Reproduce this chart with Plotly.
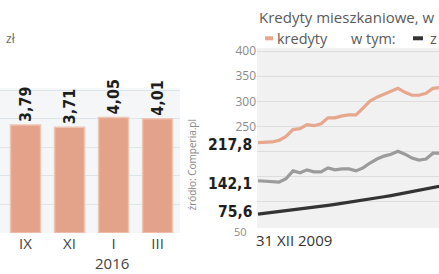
import plotly.graph_objects as go

# ---- left chart data ----
bar_labels = ["IX", "XI", "I", "III"]
bar_values = [3.79, 3.71, 4.05, 4.01]
bar_text = ["3,79", "3,71", "4,05", "4,01"]

# ---- right chart data (monthly, from 31 XII 2009, bn zł) ----
kredyty = [217.8, 218.5, 219.2, 222.3, 230.1, 243.8, 245.7, 253.5, 251.6, 255.5,
           267.2, 267.2, 271.1, 273.0, 273.0, 286.7, 300.4, 308.2, 314.1, 319.9,
           325.8, 318.0, 312.1, 312.1, 316.0, 325.8, 327.7, 329.7]
walutowe = [142.1, 141.2, 140.2, 139.3, 146.1, 161.7, 157.8, 163.7, 159.8, 159.8,
            167.6, 163.7, 165.6, 165.6, 161.7, 167.6, 177.3, 185.2, 191.0, 194.9,
            200.8, 194.9, 187.1, 183.2, 185.2, 196.9, 196.9, 194.9]
zlotowe = [75.6, 77.2, 78.8, 80.5, 82.2, 84.0, 85.8, 87.6, 89.4, 91.2,
           93.1, 95.0, 97.0, 99.0, 101.1, 103.3, 105.5, 107.8, 110.2, 112.6,
           115.1, 117.6, 120.2, 122.8, 125.5, 128.2, 131.0, 133.8]
months = list(range(len(kredyty)))
right_ticks = [250, 300, 350, 400]
right_bottom_tick = 50

W, H = 439, 274
def px_x(p): return p / W
def px_y(p): return 1 - p / H

FONT = "'Open Sans', Roboto, sans-serif"
BOLD = "'DejaVu Sans Condensed', 'DejaVu Sans', sans-serif"

fig = go.Figure()

fig.add_trace(go.Bar(
    x=list(range(len(bar_values))), y=bar_values,
    text=bar_text, textposition="outside", textangle=-90,
    constraintext="none", cliponaxis=False,
    textfont=dict(family=BOLD, size=16, color="#1e1e1e", weight="bold"),
    marker=dict(color="#E3A38A", line=dict(color="#EEC4B3", width=1.5)),
    width=0.68, xaxis="x", yaxis="y", showlegend=False,
))

for series, color in [(kredyty, "#E6A78E"), (walutowe, "#9B9B9B"), (zlotowe, "#333333")]:
    fig.add_trace(go.Scatter(
        x=months, y=series, mode="lines",
        line=dict(color=color, width=3.2),
        xaxis="x2", yaxis="y2", showlegend=False,
    ))

def fmt(v):
    return f"{v:.1f}".replace(".", ",")

annotations = [
    dict(text="zł", x=px_x(4), y=px_y(33), xref="paper", yref="paper",
         xanchor="left", yanchor="middle", showarrow=False,
         font=dict(family=FONT, size=12, color="#666")),
    dict(text="2016", x=1.97, y=px_y(263), xref="x", yref="paper",
         xanchor="center", yanchor="middle", showarrow=False,
         font=dict(family=FONT, size=15, color="#444")),
    dict(text="źródło: Comperia.pl", x=px_x(192), y=px_y(163), xref="paper", yref="paper",
         textangle=-90, xanchor="center", yanchor="middle", showarrow=False,
         font=dict(family=FONT, size=10, color="#8a8a8a")),
    dict(text="Kredyty mieszkaniowe, w", x=px_x(257), y=px_y(11.5), xref="paper", yref="paper",
         xanchor="left", yanchor="middle", showarrow=False,
         font=dict(family=FONT, size=15, color="#5a5a5a")),
    dict(text="kredyty", x=px_x(275), y=px_y(33.5), xref="paper", yref="paper",
         xanchor="left", yanchor="middle", showarrow=False,
         font=dict(family=FONT, size=14.5, color="#5a5a5a")),
    dict(text="w tym:", x=px_x(349), y=px_y(33.5), xref="paper", yref="paper",
         xanchor="left", yanchor="middle", showarrow=False,
         font=dict(family=FONT, size=14.5, color="#5a5a5a")),
    dict(text="z", x=px_x(428), y=px_y(33.5), xref="paper", yref="paper",
         xanchor="left", yanchor="middle", showarrow=False,
         font=dict(family=FONT, size=14.5, color="#5a5a5a")),
    dict(text="31 XII 2009", x=px_x(254), y=px_y(239), xref="paper", yref="paper",
         xanchor="left", yanchor="middle", showarrow=False,
         font=dict(family=FONT, size=15, color="#333")),
    dict(text=str(right_bottom_tick), x=px_x(249), y=px_y(231), xref="paper", yref="paper",
         xanchor="right", yanchor="middle", showarrow=False,
         font=dict(family=FONT, size=11, color="#8a8a8a")),
]
for series, shift in zip((kredyty, walutowe, zlotowe), (-2, -3, 2)):
    annotations.append(dict(
        text=fmt(series[0]), x=px_x(254), y=series[0], xref="paper", yref="y2",
        xanchor="right", yanchor="middle", showarrow=False, yshift=shift,
        font=dict(family=BOLD, size=15.5, color="#1e1e1e", weight="bold")))

shapes = [
    dict(type="rect", xref="x domain", yref="y domain", x0=0, x1=1, y0=0, y1=1,
         fillcolor="#F4F6F8", line=dict(width=0), layer="below"),
    dict(type="rect", xref="x2 domain", yref="y2 domain", x0=0, x1=1, y0=0, y1=1,
         fillcolor="#F1F1F1", line=dict(width=0), layer="below"),
    dict(type="line", xref="paper", yref="paper", x0=px_x(265), x1=px_x(273),
         y0=px_y(33), y1=px_y(33), line=dict(color="#E6A78E", width=4)),
    dict(type="line", xref="paper", yref="paper", x0=px_x(413), x1=px_x(423),
         y0=px_y(33), y1=px_y(33), line=dict(color="#333333", width=4)),
]

fig.update_layout(
    width=W, height=H, margin=dict(l=0, r=0, t=0, b=0),
    paper_bgcolor="white", plot_bgcolor="rgba(0,0,0,0)",
    bargap=0.3,
    xaxis=dict(domain=[0, px_x(180)], range=[-0.58, 3.51],
               tickvals=list(range(len(bar_labels))), ticktext=bar_labels,
               tickfont=dict(family=FONT, size=15, color="#444"),
               showgrid=False, zeroline=False, showline=False, ticks=""),
    yaxis=dict(domain=[px_y(232), px_y(84)], range=[0, 5.08],
               dtick=1, showticklabels=False, gridcolor="#DCE5EA", gridwidth=1,
               zeroline=False, showline=False, ticks=""),
    xaxis2=dict(domain=[px_x(257), 1], range=[-1/7, 181/7], anchor="y2",
                showticklabels=False, showgrid=False, zeroline=False, showline=False, ticks=""),
    yaxis2=dict(domain=[px_y(227), px_y(43)], range=[48, 406], anchor="x2",
                tickvals=[100, 150, 200] + right_ticks,
                ticktext=["", "", ""] + [str(t) for t in right_ticks],
                tickfont=dict(family=FONT, size=12, color="#8a8a8a"),
                gridcolor="#DDDDDD", gridwidth=1, zeroline=False, showline=False, ticks=""),
    annotations=annotations, shapes=shapes,
)

fig.write_html("out.html")
